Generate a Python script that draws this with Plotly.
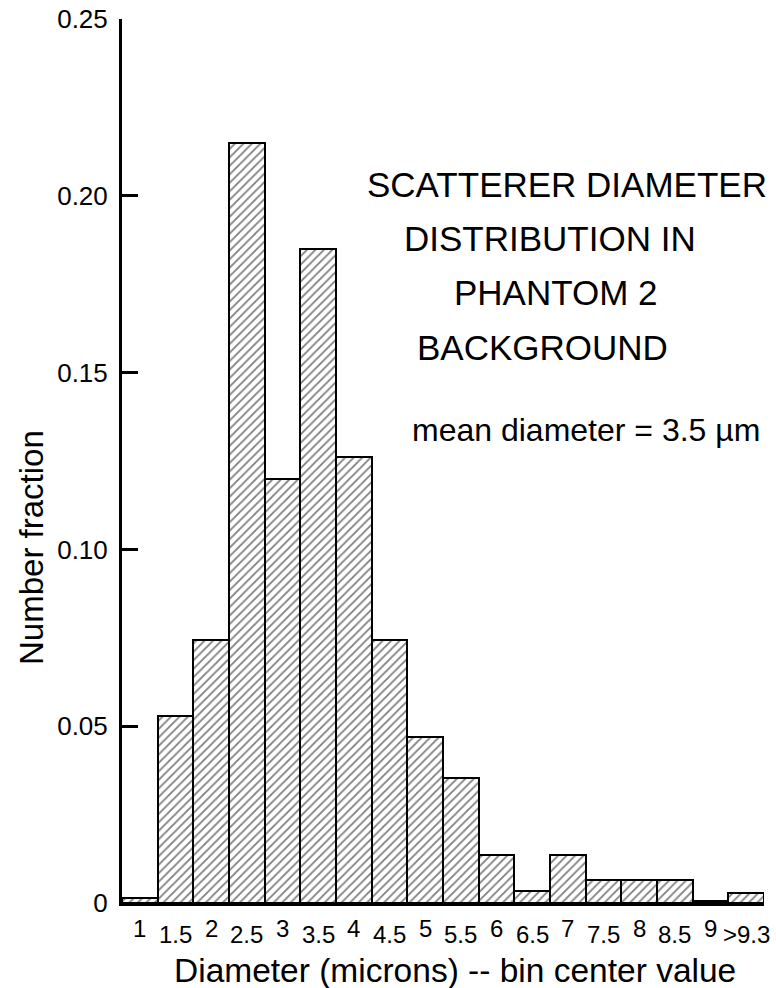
import plotly.graph_objects as go

# Histogram of scatterer diameters, one bar per 0.5 micron bin
bin_labels = ["1", "1.5", "2", "2.5", "3", "3.5", "4", "4.5", "5", "5.5",
              "6", "6.5", "7", "7.5", "8", "8.5", "9", ">9.3"]
number_fraction = [0.0015, 0.053, 0.0745, 0.215, 0.120, 0.185, 0.126, 0.0745,
                   0.047, 0.0353, 0.0136, 0.0034, 0.0136, 0.0064, 0.0064,
                   0.0064, 0.0006, 0.0028]
y_tick_vals = [0, 0.05, 0.10, 0.15, 0.20, 0.25]
y_tick_text = ["0", "0.05", "0.10", "0.15", "0.20", "0.25"]

title_lines = ["SCATTERER DIAMETER", "DISTRIBUTION IN", "PHANTOM 2", "BACKGROUND"]
mean_note = "mean diameter = 3.5 µm"
x_title = "Diameter (microns) -- bin center value"
y_title = "Number fraction"

FONT = "Liberation Sans, Arial, sans-serif"

bin_pos = list(range(len(bin_labels)))

fig = go.Figure(
    go.Bar(
        x=bin_pos,
        y=number_fraction,
        width=1.0,
        customdata=bin_labels,
        hovertemplate="%{customdata}: %{y}<extra></extra>",
        marker=dict(
            color="white",
            line=dict(color="black", width=2),
            pattern=dict(shape="/", size=6, solidity=0.3,
                         fgcolor="black", bgcolor="white"),
        ),
    )
)

annotations = []

# Bin-centre labels alternate between two rows so the half-micron values fit
for pos, lab in zip(bin_pos, bin_labels):
    is_half = "." in lab
    annotations.append(dict(
        x=pos, y=0, xref="x", yref="paper",
        text=lab, showarrow=False,
        xanchor="center", yanchor="middle",
        yshift=-31 if is_half else -25,
        font=dict(family=FONT, size=24, color="black"),
    ))

# Title block in the upper right, each line placed on its own
title_left = [365, 402, 452, 415]
title_mid_y = [184, 238, 292, 347]
for txt, xl, ym in zip(title_lines, title_left, title_mid_y):
    annotations.append(dict(
        x=(xl - 122) / 642, y=(903 - ym) / 884,
        xref="paper", yref="paper", text=txt, showarrow=False,
        xanchor="left", yanchor="middle",
        font=dict(family=FONT, size=35, color="black"),
    ))

annotations.append(dict(
    x=(410 - 122) / 642, y=(903 - 430) / 884,
    xref="paper", yref="paper", text=mean_note, showarrow=False,
    xanchor="left", yanchor="middle",
    font=dict(family=FONT, size=32, color="black"),
))

# Axis titles
annotations.append(dict(
    x=(455 - 122) / 642, y=(903 - 970) / 884,
    xref="paper", yref="paper", text=x_title, showarrow=False,
    xanchor="center", yanchor="middle",
    font=dict(family=FONT, size=33.5, color="black"),
))
annotations.append(dict(
    x=(31 - 122) / 642, y=(903 - 548) / 884,
    xref="paper", yref="paper", text=y_title, showarrow=False,
    textangle=-90, xanchor="center", yanchor="middle",
    font=dict(family=FONT, size=33, color="black"),
))

fig.update_layout(
    width=776, height=988,
    margin=dict(l=122, r=12, t=19, b=85),
    paper_bgcolor="white", plot_bgcolor="white",
    bargap=0, showlegend=False,
    font=dict(family=FONT, color="black"),
    annotations=annotations,
    xaxis=dict(
        range=[-0.5, len(bin_labels) - 0.5],
        showline=True, linecolor="black", linewidth=3,
        showticklabels=False, ticks="", showgrid=False, zeroline=False,
        automargin=False,
    ),
    yaxis=dict(
        range=[0, 0.25],
        tickvals=y_tick_vals, ticktext=y_tick_text,
        ticks="inside", ticklen=16, tickwidth=3, tickcolor="black",
        showline=True, linecolor="black", linewidth=3,
        showgrid=False, zeroline=False,
        tickfont=dict(family=FONT, size=26),
        ticklabelstandoff=6,
        automargin=False,
    ),
)

fig.write_html("out.html")
